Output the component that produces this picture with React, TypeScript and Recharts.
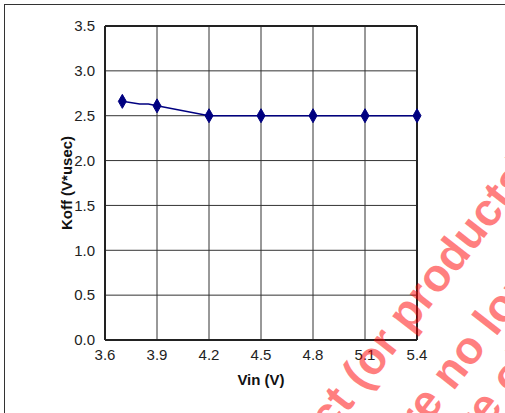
import React from "react";
import {
  LineChart,
  Line,
  XAxis,
  YAxis,
  CartesianGrid,
  ReferenceLine,
} from "recharts";

const vin = [3.7, 3.8, 3.85, 3.9, 4.2, 4.5, 4.8, 5.1, 5.4];
const koff = [2.66, 2.63, 2.63, 2.61, 2.5, 2.5, 2.5, 2.5, 2.5];
const marked = [true, false, false, true, true, true, true, true, true];

const xTicks = [3.6, 3.9, 4.2, 4.5, 4.8, 5.1, 5.4];
const yTicks = [0, 0.5, 1.0, 1.5, 2.0, 2.5, 3.0, 3.5];

// watermark lines, split where each one is pinned to the picture
const watermarkHeads = ["Obsolete product", "that are", "which are"];
const watermarkTails = ["(or products)", "no longer available", "obsolete"];

const data = vin.map((v, i) => ({ vin: v, koff: koff[i], m: marked[i] }));

const FONT = "'Liberation Sans', Arial, sans-serif";
const WM_ANGLE = -52;
const WM_ANCHORS = [
  [364, 392],
  [453, 392],
  [512, 396],
];

function Diamond(props: any) {
  const { cx, cy, payload } = props;
  if (!payload || !payload.m || cx == null || cy == null) return null;
  return (
    <polygon
      key={`d-${cx}`}
      points={`${cx},${cy - 7} ${cx + 4},${cy} ${cx},${cy + 7} ${cx - 4},${cy}`}
      fill="#000080"
      stroke="#000080"
    />
  );
}

export default function App() {
  return (
    <div
      style={{
        position: "absolute",
        left: 0,
        top: 0,
        width: 505,
        height: 413,
        background: "#fff",
        overflow: "hidden",
        fontFamily: FONT,
      }}
    >
      {/* outer frame */}
      <div
        style={{
          position: "absolute",
          left: 4,
          top: 4,
          width: 520,
          height: 430,
          border: "1.5px solid #333",
        }}
      />
      <LineChart
        width={505}
        height={413}
        data={data}
        margin={{ top: 26, right: 88, left: 45, bottom: 43 }}
        style={{ position: "absolute", left: 0, top: 0 }}
      >
        <CartesianGrid stroke="#333" strokeWidth={1} />
        <XAxis
          dataKey="vin"
          type="number"
          domain={[3.6, 5.4]}
          ticks={xTicks}
          tickFormatter={(v: number) => v.toFixed(1)}
          tickLine={false}
          axisLine={{ stroke: "#222", strokeWidth: 2 }}
          tick={{ fill: "#222", fontSize: 15, fontFamily: FONT }}
          tickMargin={3}
          height={30}
          label={{
            value: "Vin (V)",
            position: "insideBottom",
            offset: -15,
            fill: "#111",
            fontSize: 15,
            fontWeight: "bold",
            fontFamily: FONT,
          }}
        />
        <YAxis
          type="number"
          domain={[0, 3.5]}
          ticks={yTicks}
          tickFormatter={(v: number) => v.toFixed(1)}
          tickLine={false}
          axisLine={{ stroke: "#222", strokeWidth: 2 }}
          tick={{ fill: "#222", fontSize: 15, fontFamily: FONT }}
          tickMargin={4}
          width={60}
          label={{
            value: "Koff (V*usec)",
            angle: -90,
            position: "insideLeft",
            offset: 22,
            fill: "#111",
            fontSize: 15,
            fontWeight: "bold",
            fontFamily: FONT,
            style: { textAnchor: "middle" },
          }}
        />
        <ReferenceLine y={3.5} stroke="#222" strokeWidth={2} />
        <ReferenceLine x={5.4} stroke="#222" strokeWidth={2} />
        <Line
          dataKey="koff"
          type="linear"
          stroke="#000080"
          strokeWidth={1.5}
          dot={<Diamond />}
          activeDot={false}
          isAnimationActive={false}
        />
      </LineChart>
      {/* watermark */}
      <svg
        width={505}
        height={413}
        style={{ position: "absolute", left: 0, top: 0, pointerEvents: "none" }}
      >
        {WM_ANCHORS.map(([x, y], i) => (
          <g
            key={i}
            transform={`rotate(${WM_ANGLE} ${x} ${y})`}
            fill="#ff0000"
            fillOpacity={0.5}
            fontFamily={FONT}
            fontWeight="bold"
            fontSize={46}
          >
            <text x={x - 13} y={y} textAnchor="end">
              {watermarkHeads[i]}
            </text>
            <text x={x} y={y}>
              {watermarkTails[i]}
            </text>
          </g>
        ))}
      </svg>
    </div>
  );
}
